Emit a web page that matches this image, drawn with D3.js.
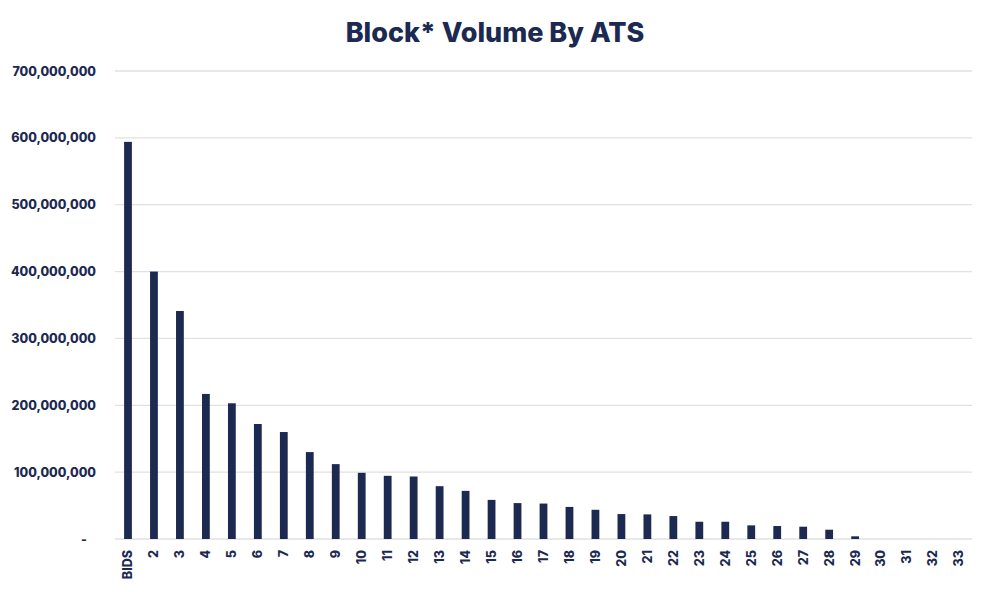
<!DOCTYPE html>
<html lang="en">
<head>
  <meta charset="UTF-8" />
  <title>Block* Volume By ATS</title>
  <style>
    body { margin:0; background:#fff; font-family:Inter, sans-serif; }
    #chart { display:block; }
  </style>
</head>
<body>
  <svg id="chart" width="990" height="592"></svg>

  <script src="https://d3js.org/d3.v7.min.js"></script>
  <script>
  // venues, in order as shown
  const venues = ["BIDS","2","3","4","5","6","7","8","9","10","11","12","13","14","15","16",
                  "17","18","19","20","21","22","23","24","25","26","27","28","29","30","31","32","33"];
  // block volume per venue (shares)
  const volumes = [594e6, 400e6, 341e6, 217e6, 203e6, 172e6, 160e6, 130e6, 112e6, 99e6,
                   94.5e6, 93.5e6, 79e6, 72e6, 58.5e6, 53.7e6, 53e6, 48e6, 43.7e6, 37.3e6,
                   36.8e6, 34.3e6, 25.8e6, 25.8e6, 20.4e6, 19.4e6, 18.4e6, 13.9e6, 4e6, 0, 0, 0, 0];
  const yTicks = [0, 100e6, 200e6, 300e6, 400e6, 500e6, 600e6, 700e6];

  const navy = "#1c2951";
  const svg = d3.select("#chart");
  const m = {left:115, right:18, top:71, bottom:53};
  const W = 990, H = 592;

  const x = d3.scaleBand().domain(venues).range([m.left, W-m.right]).paddingInner(0.7).paddingOuter(0.35);
  const y = d3.scaleLinear().domain([0, 700e6]).range([H-m.bottom, m.top]);

  // title
  svg.append("text")
     .attr("x", 495).attr("y", 42).attr("text-anchor","middle")
     .style("font-size","27px").style("font-weight","800").style("fill",navy)
     .text("Block* Volume By ATS");

  // gridlines
  svg.append("g").selectAll("line").data(yTicks).join("line")
     .attr("x1", m.left).attr("x2", W-m.right)
     .attr("y1", d=>y(d)).attr("y2", d=>y(d))
     .attr("stroke","#e1e1e1").attr("stroke-width",1.3);

  // y axis labels
  const fmt = d3.format(",");
  const gy = svg.append("g").attr("transform",`translate(${m.left},0)`)
     .call(d3.axisLeft(y).tickValues(yTicks).tickSize(0).tickPadding(19)
           .tickFormat(d => d===0 ? "-" : fmt(d)));
  gy.select(".domain").remove();
  gy.selectAll("text").style("font-size","12.5px").style("font-weight","800")
    .style("fill",navy).style("font-family","Inter, sans-serif");
  gy.selectAll("text").filter(d=>d===0).attr("dx",-9);

  // bars
  svg.append("g").selectAll("rect").data(venues).join("rect")
     .attr("x", d=>x(d)).attr("width", x.bandwidth())
     .attr("y", (d,i)=>y(volumes[i]))
     .attr("height", (d,i)=>y(0)-y(volumes[i]))
     .attr("fill", navy);

  // x axis labels (rotated)
  const gx = svg.append("g").attr("transform",`translate(0,${y(0)})`)
     .call(d3.axisBottom(x).tickSize(0).tickPadding(0));
  gx.select(".domain").remove();
  gx.selectAll("text")
    .attr("transform","rotate(-90)")
    .attr("x",-11).attr("y",0).attr("dy","0.35em")
    .style("text-anchor","end")
    .style("font-size","12.5px").style("font-weight","800")
    .style("fill",navy).style("font-family","Inter, sans-serif");
  </script>
</body>
</html>
